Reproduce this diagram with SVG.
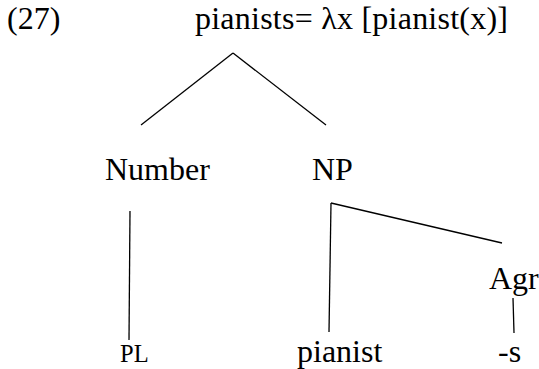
<svg xmlns="http://www.w3.org/2000/svg" width="539" height="369" viewBox="0 0 539 369">
<style>
text { font-family: "Liberation Serif", "Times New Roman", serif; font-size: 32px; fill: #000; }
.small { font-size: 24.5px; }
.edges line { stroke: #000; stroke-width: 1.3; }
</style>
<rect width="539" height="369" fill="#fff"/>
<text x="7" y="29" id="label27">(27)</text>
<g id="root"><text x="195" y="29" textLength="313">pianists= λx [pianist(x)]</text></g>
<g id="number"><text x="105" y="180">Number</text></g>
<g id="np"><text x="312" y="180">NP</text></g>
<g id="agr"><text x="489" y="289">Agr</text></g>
<g id="pl"><text class="small" x="120" y="362">PL</text></g>
<g id="pianist"><text x="297" y="362">pianist</text></g>
<g id="s"><text x="498" y="362">-s</text></g>
<g class="edges" id="connectors">
<line x1="233" y1="53" x2="141" y2="125"/>
<line x1="233" y1="53" x2="326" y2="125"/>
<line x1="130" y1="211" x2="129" y2="340"/>
<line x1="331" y1="203" x2="329" y2="332"/>
<line x1="331" y1="203" x2="502" y2="243"/>
<line x1="513" y1="298" x2="514" y2="333"/>
</g>
</svg>
